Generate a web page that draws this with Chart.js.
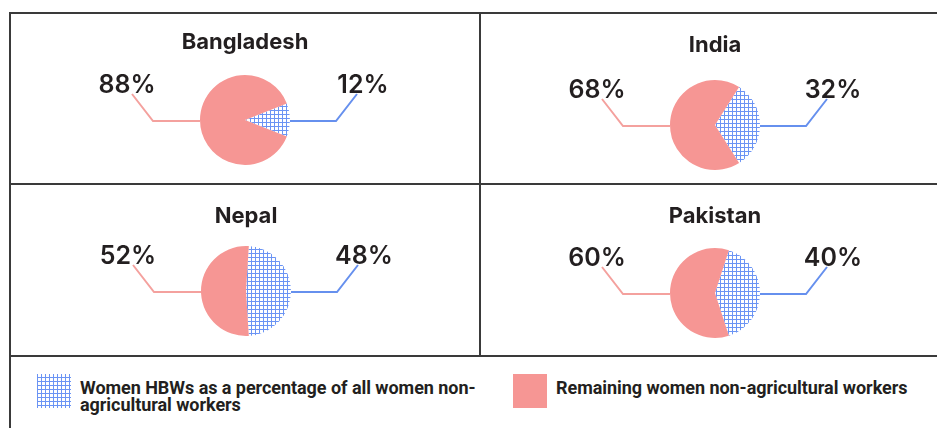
<!DOCTYPE html>
<html lang="en">
<head>
    <meta charset="UTF-8">
    <title>Women HBWs share of women non-agricultural workers</title>
    <script src="https://cdn.jsdelivr.net/npm/chart.js"></script>
    <style>
        html, body { margin: 0; padding: 0; background: #fff; }
        body { width: 937px; height: 428px; position: relative; overflow: hidden; font-family: Inter, "Noto Sans", sans-serif; color: #231f20; }
        .rule { position: absolute; background: #3a3a3a; z-index: 2; }
        .chart-box { position: absolute; width: 470px; height: 160px; }
        .swatch { position: absolute; width: 34px; height: 34px; top: 374px; }
        .hatch {
            background-color: #fff;
            background-image:
                linear-gradient(90deg, #6b94f4 1px, transparent 1px),
                linear-gradient(0deg, #6b94f4 1px, transparent 1px);
            background-size: 4px 4px;
        }
        .legend-text { position: absolute; top: 379px; font: 700 18px/17px Roboto, "Liberation Sans", sans-serif; letter-spacing: -0.05px; color: #231f20; }
    </style>
</head>
<body>
    <!-- panel rules -->
    <div class="rule" style="left:9px; top:12px; width:928px; height:2px;"></div>
    <div class="rule" style="left:9px; top:12px; width:2px; height:416px;"></div>
    <div class="rule" style="left:479px; top:12px; width:2px; height:345px;"></div>
    <div class="rule" style="left:9px; top:183px; width:928px; height:2px;"></div>
    <div class="rule" style="left:9px; top:355px; width:928px; height:2px;"></div>

    <div class="chart-box" id="box0"><canvas id="pie0"></canvas></div>
    <div class="chart-box" id="box1"><canvas id="pie1"></canvas></div>
    <div class="chart-box" id="box2"><canvas id="pie2"></canvas></div>
    <div class="chart-box" id="box3"><canvas id="pie3"></canvas></div>

    <!-- legend -->
    <div class="swatch hatch" style="left:37px;"></div>
    <div class="legend-text" style="left:80px;">Women HBWs as a percentage of all women non-<br>agricultural workers</div>
    <div class="swatch" style="left:513px; background:#f69694;"></div>
    <div class="legend-text" style="left:556px;">Remaining women non-agricultural workers</div>

    <script>
        // data
        const countries = ["Bangladesh", "India", "Nepal", "Pakistan"];
        const hbwShare = [12, 32, 48, 40];
        const remainingShare = [88, 68, 52, 60];

        // where each pie sits on the page (centre x, centre y, title centre y)
        const pieCenterX = [245, 715, 246, 715];
        const pieCenterY = [120, 125, 291, 293];
        const titleCenterY = [42.5, 45.5, 216, 216];

        const PINK = "#f69694";
        const BLUE_LINE = "#6690ee";
        const PINK_LINE = "#f4a19e";

        function makeHatch() {
            const tile = document.createElement("canvas");
            tile.width = 4;
            tile.height = 4;
            const t = tile.getContext("2d");
            t.fillStyle = "#fff";
            t.fillRect(0, 0, 4, 4);
            t.fillStyle = "#6b94f4";
            t.fillRect(0, 0, 1, 4);
            t.fillRect(0, 0, 4, 1);
            return t.createPattern(tile, "repeat");
        }
        const hatch = makeHatch();

        // leader lines + percentage labels, placed from the arc geometry
        const leaderPlugin = {
            id: "leaders",
            afterDraw(chart) {
                const arc = chart.getDatasetMeta(0).data[0];
                const cx = arc.x, cy = arc.y, r = arc.outerRadius;
                const vals = chart.data.datasets[0].data;
                const ctx = chart.ctx;
                ctx.save();
                ctx.lineWidth = 2;
                ctx.lineJoin = "miter";

                // right (HBW share)
                ctx.strokeStyle = BLUE_LINE;
                ctx.beginPath();
                ctx.moveTo(cx + r, cy + 1);
                ctx.lineTo(cx + 91, cy + 1);
                ctx.lineTo(cx + 112, cy - 26);
                ctx.stroke();

                // left (remaining)
                ctx.strokeStyle = PINK_LINE;
                ctx.beginPath();
                ctx.moveTo(cx - r, cy + 1);
                ctx.lineTo(cx - 92, cy + 1);
                ctx.lineTo(cx - 113, cy - 26);
                ctx.stroke();

                ctx.fillStyle = "#231f20";
                ctx.font = "600 25px Inter, 'Noto Sans', sans-serif";
                ctx.textAlign = "center";
                ctx.textBaseline = "alphabetic";
                ctx.fillText(vals[1] + "%", cx - 118, cy - 27);
                ctx.fillText(vals[0] + "%", cx + 118, cy - 27);
                ctx.restore();
            }
        };

        countries.forEach(function (name, i) {
            const box = document.getElementById("box" + i);
            const top = pieCenterY[i] - 110;
            box.style.left = (pieCenterX[i] - 235) + "px";
            box.style.top = top + "px";

            const titleRel = titleCenterY[i] - top;
            const titleLine = 22 * 1.2;
            const padTop = titleRel - titleLine / 2;
            const padBottom = 65 - padTop - titleLine;

            new Chart(document.getElementById("pie" + i), {
                type: "pie",
                data: {
                    labels: ["Women HBWs", "Remaining women non-agricultural workers"],
                    datasets: [{
                        data: [hbwShare[i], remainingShare[i]],
                        backgroundColor: [hatch, PINK],
                        borderWidth: 0
                    }]
                },
                options: {
                    responsive: true,
                    maintainAspectRatio: false,
                    animation: false,
                    // centre the HBW slice on the 3 o'clock direction
                    rotation: 90 - hbwShare[i] * 3.6 / 2,
                    layout: { padding: { top: 0, bottom: 5, left: 0, right: 0 } },
                    plugins: {
                        legend: { display: false },
                        tooltip: { enabled: false },
                        title: {
                            display: true,
                            text: name,
                            color: "#231f20",
                            font: { family: "Inter, 'Noto Sans', sans-serif", size: 22, weight: "bold", lineHeight: 1.2 },
                            padding: { top: padTop, bottom: padBottom }
                        }
                    }
                },
                plugins: [leaderPlugin]
            });
        });
    </script>
</body>
</html>
